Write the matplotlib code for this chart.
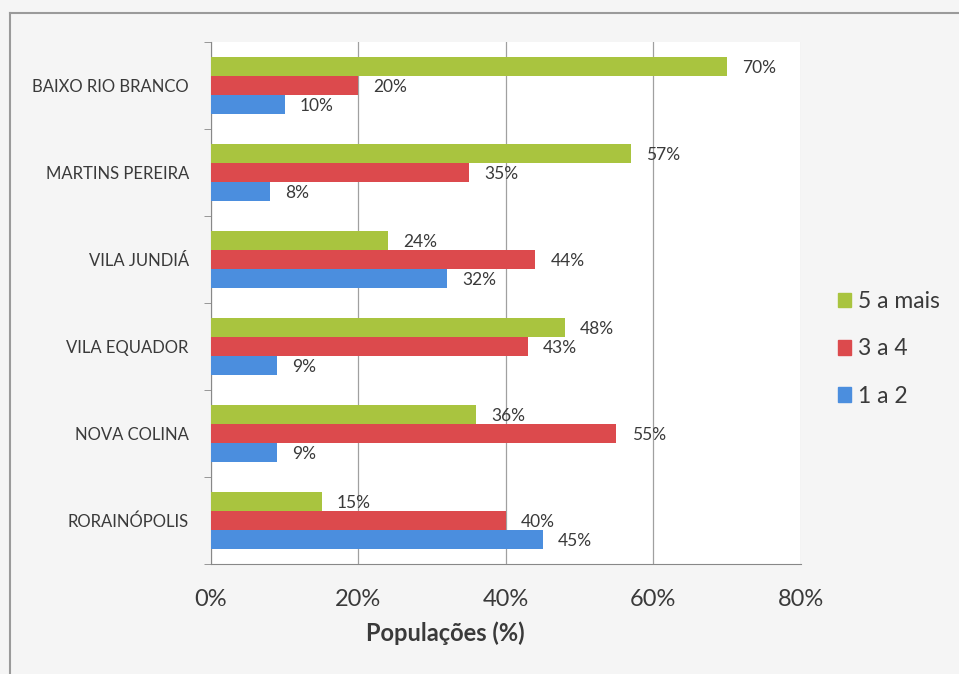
import numpy as np
import matplotlib.pyplot as plt
from matplotlib.patches import Rectangle
from matplotlib.lines import Line2D

# population share by number of residents per household
localidades = ["BAIXO RIO BRANCO", "MARTINS PEREIRA", "VILA JUNDIÁ",
               "VILA EQUADOR", "NOVA COLINA", "RORAINÓPOLIS"]
cinco_a_mais = [70, 57, 24, 48, 36, 15]
tres_a_quatro = [20, 35, 44, 43, 55, 40]
um_a_dois = [10, 8, 32, 9, 9, 45]

series = [("5 a mais", cinco_a_mais, "#a9c43f"),
          ("3 a 4", tres_a_quatro, "#dc4a4d"),
          ("1 a 2", um_a_dois, "#4b8ede")]

plt.rcParams['font.family'] = ['Lato', 'DejaVu Sans']
TXT = "#3a3a3a"

fig = plt.figure(figsize=(9.59, 6.74), dpi=100)
fig.patch.set_facecolor("#f5f5f5")
ax = fig.add_axes([0.220, 0.1632, 0.615, 0.7745])
ax.set_facecolor("white")

# chart frame (top and left edges visible)
fig.add_artist(Line2D([0.010, 0.010], [0.0, 0.981], color="#9a9a9a", lw=1.5))
fig.add_artist(Line2D([0.010, 1.0], [0.981, 0.981], color="#9a9a9a", lw=1.5))

n = len(localidades)
y = np.arange(n)
h = 0.22
for i, (nome, vals, cor) in enumerate(series):
    pos = y + (i - 1) * h
    ax.barh(pos, vals, height=h, color=cor, zorder=3, label=nome)
    for p, v in zip(pos, vals):
        ax.annotate(f"{v}%", (v, p), xytext=(11, -1), textcoords="offset points",
                    ha="left", va="center", fontsize=12.5, color=TXT, zorder=4)

ax.set_xlim(0, 80)
ax.set_ylim(n - 0.5, -0.5)
ax.set_xticks([0, 20, 40, 60, 80])
ax.set_xticklabels(["0%", "20%", "40%", "60%", "80%"], fontsize=17, color=TXT)
ax.tick_params(axis="x", length=0, pad=18)
ax.set_yticks(y)
ax.set_yticklabels(localidades, fontsize=12, color=TXT)
ax.tick_params(axis="y", length=0, pad=16)
# small ticks between categories
ax.set_yticks(np.arange(-0.5, n, 1), minor=True)
ax.tick_params(axis="y", which="minor", length=5, color="#888888", direction="out")

ax.grid(axis="x", color="#a0a0a0", lw=0.9, zorder=0)
for s in ["top", "right"]:
    ax.spines[s].set_visible(False)
ax.spines["left"].set_color("#888888")
ax.spines["bottom"].set_color("#888888")

fig.text(445 / 959, 1 - 633 / 674, "Populações (%)", ha="center", va="center",
         fontsize=17, fontweight="bold", color=TXT)

# legend
handles = [Rectangle((0, 0), 1, 1, color=c) for _, _, c in series]
fig.legend(handles, [s[0] for s in series], loc="center left",
           bbox_to_anchor=(0.852, 1 - 349 / 674), frameon=False, fontsize=16.5,
           handlelength=0.6, handleheight=0.6, handletextpad=0.3,
           labelspacing=1.15, labelcolor=TXT)

fig.savefig("out.png", dpi=100, facecolor=fig.get_facecolor())
